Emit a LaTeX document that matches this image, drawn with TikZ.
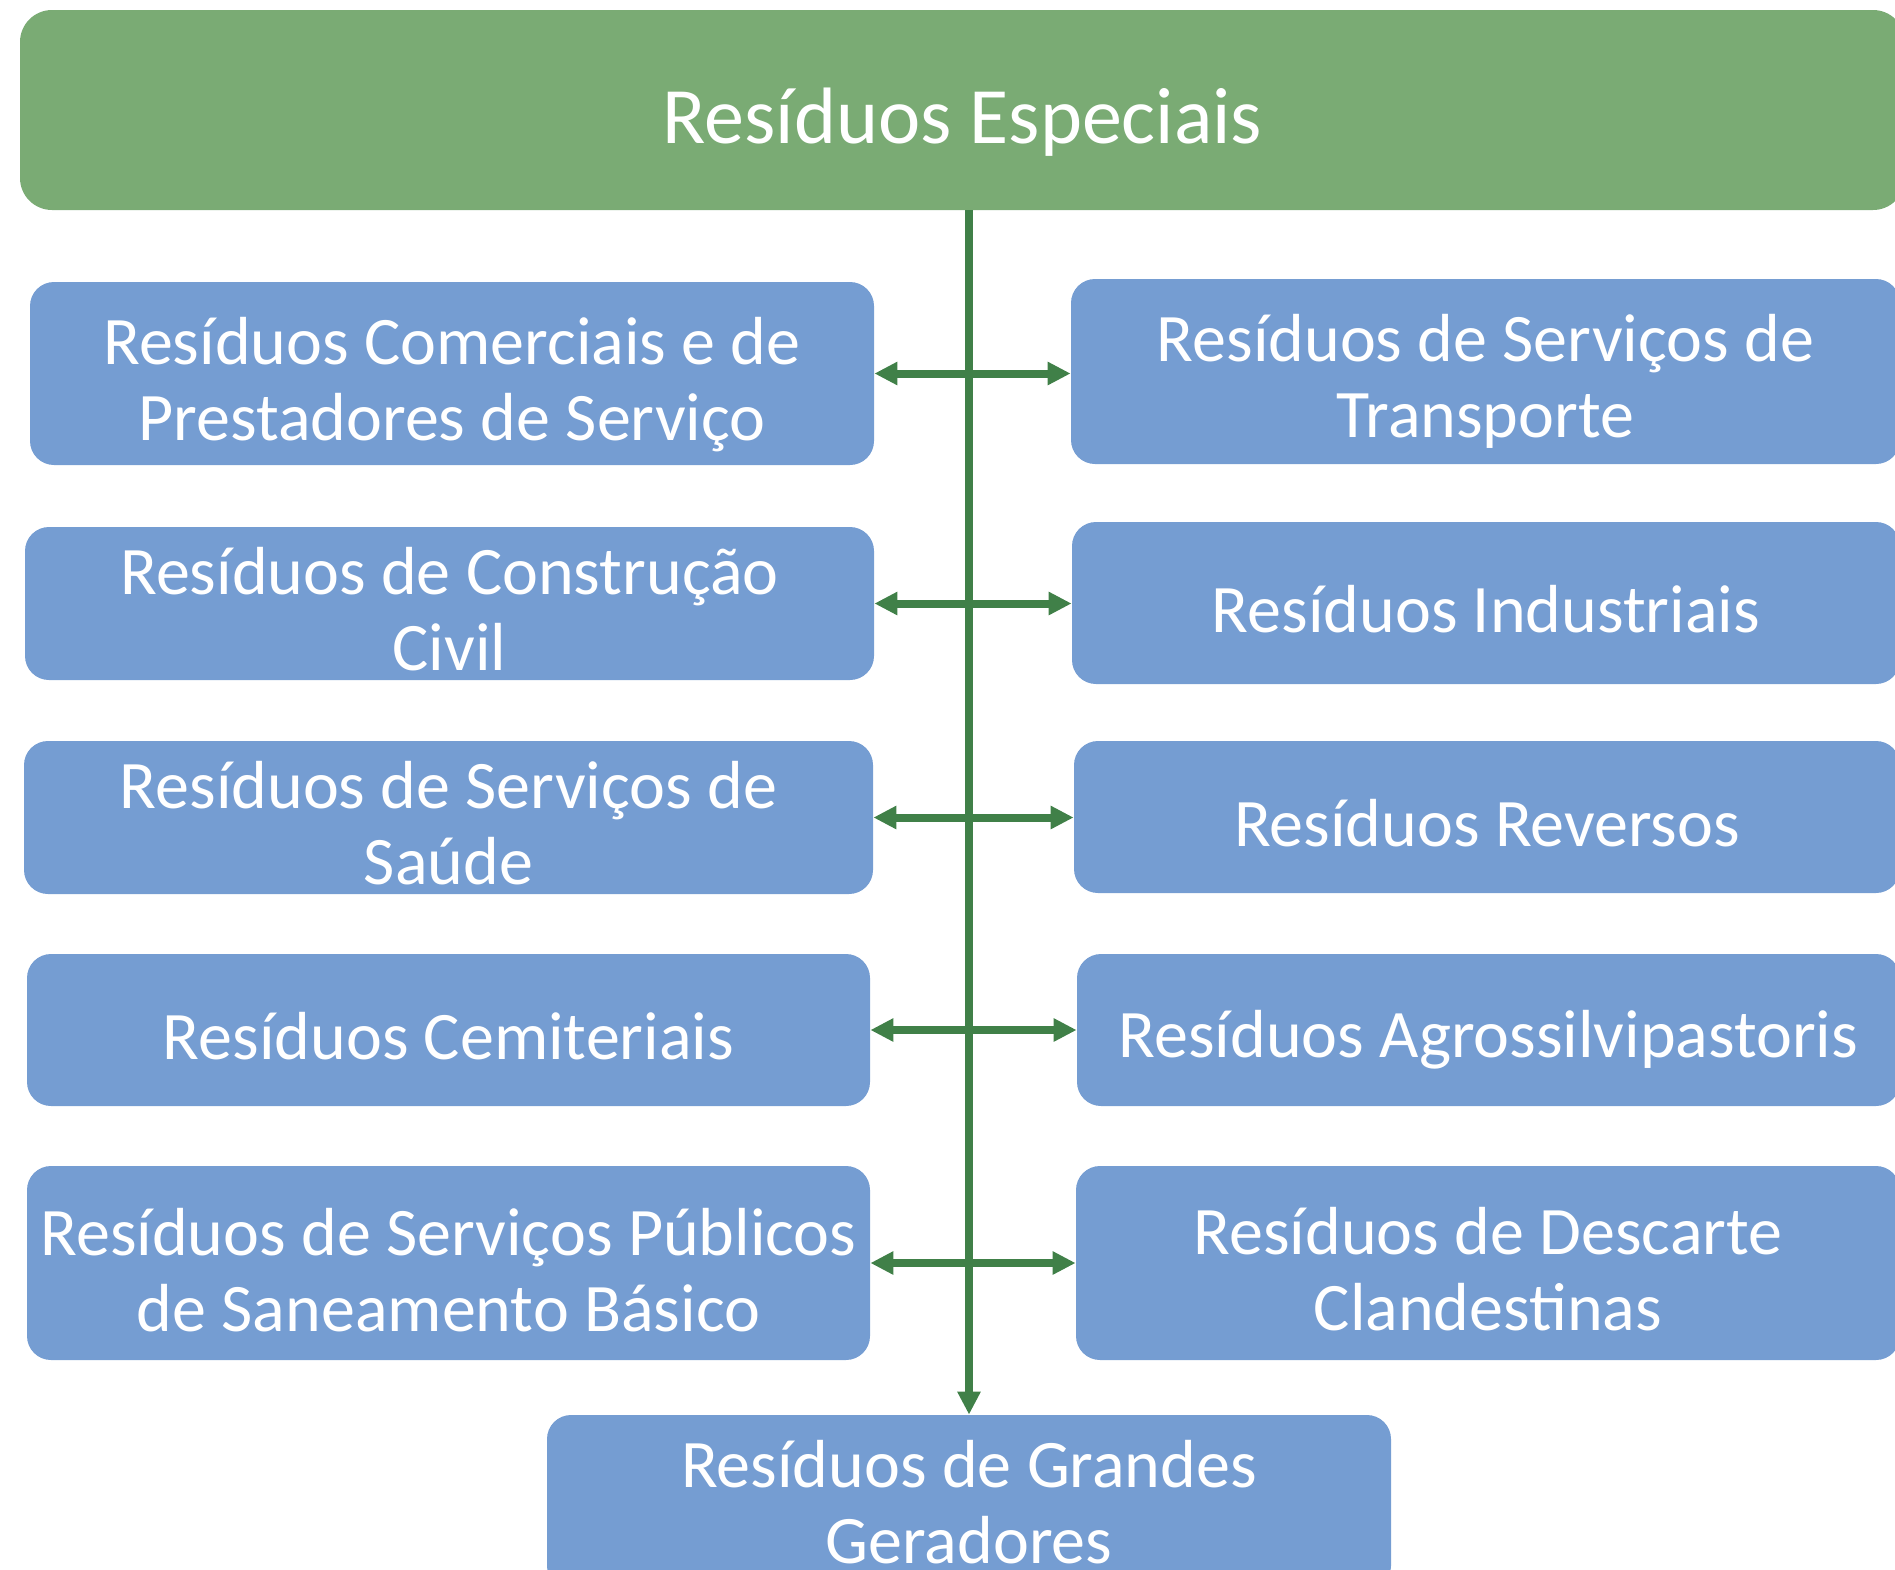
\documentclass[tikz,border=0pt]{standalone}
\usepackage{fontspec}
\setmainfont{Carlito}
\usetikzlibrary{arrows.meta}
\definecolor{headgreen}{RGB}{122,171,116}
\definecolor{boxblue}{RGB}{117,157,210}
\definecolor{linegreen}{RGB}{64,128,72}
\newcommand\topgap[1]{\rule{0pt}{#1pt}}
\tikzset{
	kind/.style={fill=boxblue, rounded corners=12pt, text=white, align=center, inner sep=0pt, font=\fontsize{34}{38}\selectfont, execute at begin node={\rule{0pt}{30pt}}},
	link/.style={linegreen, line width=4pt, {Triangle[length=11.5pt,width=11pt]}-{Triangle[length=11.5pt,width=11pt]}},
	trunk/.style={linegreen, line width=4pt, -{Triangle[length=11.5pt,width=11pt]}},
}
\begin{document}
\begin{tikzpicture}[x=0.5pt,y=-0.5pt]
		\useasboundingbox (0,0) rectangle (1895,1569);

		\node[fill=headgreen, rounded corners=16pt, text=white, inner sep=0pt, minimum width=942.5pt, minimum height=100pt, text height=33pt, text depth=0pt, font=\fontsize{40}{48}\selectfont] (top) at (962.5,110) {Resíduos Especiais};

		\node[kind, minimum width=422pt,   minimum height=91.5pt] (l1) at (452,373.5)  {\topgap{35}Resíduos Comerciais e de\\Prestadores de Serviço};
		\node[kind, minimum width=424.5pt, minimum height=76.5pt] (l2) at (449.5,603.5) {\topgap{29}Resíduos de Construção\\Civil};
		\node[kind, minimum width=424.5pt, minimum height=76.5pt] (l3) at (448.5,817.5) {\topgap{29}Resíduos de Serviços de\\Saúde};
		\node[kind, minimum width=421.5pt, minimum height=76pt]   (l4) at (448.5,1030)  {Resíduos Cemiteriais};
		\node[kind, minimum width=421.5pt, minimum height=97pt]   (l5) at (448.5,1263)  {\topgap{31}Resíduos de Serviços Públicos\\de Saneamento Básico};

		\node[kind, minimum width=414.5pt, minimum height=92.5pt] (r1) at (1485.5,371.5) {\topgap{33}Resíduos de Serviços de\\Transporte};
		\node[kind, minimum width=414pt,   minimum height=81pt]   (r2) at (1486,603)    {Resíduos Industriais};
		\node[kind, minimum width=413pt,   minimum height=76pt]   (r3) at (1487,817)    {Resíduos Reversos};
		\node[kind, minimum width=411.5pt, minimum height=76pt]   (r4) at (1488.5,1030) {\topgap{33}Resíduos Agrossilvipastoris};
		\node[kind, minimum width=412pt,   minimum height=97pt]   (r5) at (1488,1263)   {\topgap{30}Resíduos de Descarte\\Clandestinas};

		\node[kind, minimum width=422pt, minimum height=87.5pt] (bot) at (969,1502.5) {Resíduos de Grandes\\Geradores};

		\draw[trunk] (top.south -| bot.north) -- (bot.north);

		\draw[link] (l1.east) -- (l1.east -| r1.west);
		\draw[link] (l2.east) -- (l2.east -| r2.west);
		\draw[link] (l3.east) -- (l3.east -| r3.west);
		\draw[link] (l4.east) -- (l4.east -| r4.west);
		\draw[link] (l5.east) -- (l5.east -| r5.west);
	\end{tikzpicture}
\end{document}
